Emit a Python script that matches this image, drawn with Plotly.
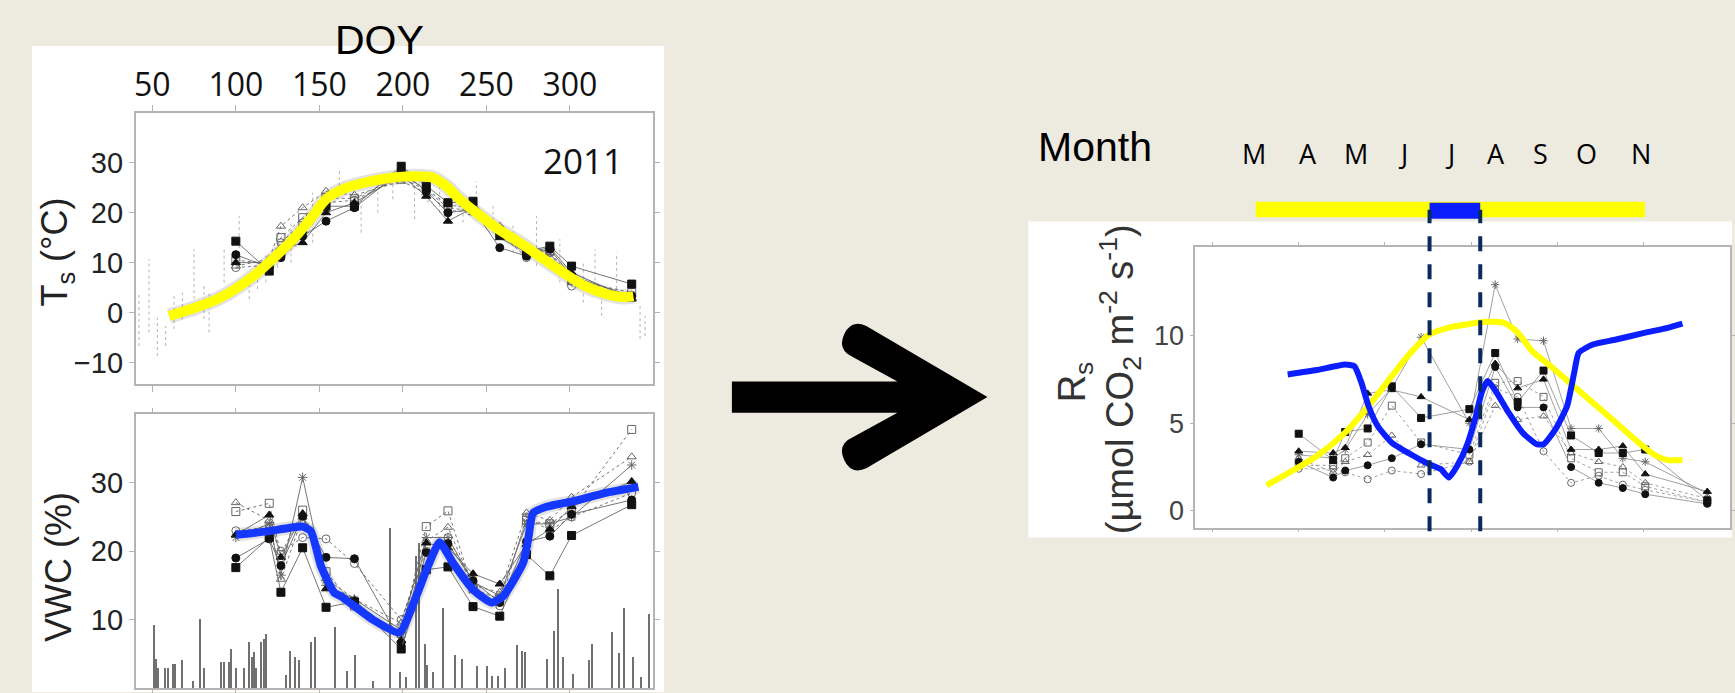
import plotly.graph_objects as go

W, H = 1735, 693
BG = "#EDEAE0"

# ---------------- data ----------------
sample_doy = [100, 120, 127, 140, 154, 171, 199, 214, 227, 242, 258, 274, 288, 301, 337]

# Soil temperature (Ts, degC) per plot
ts_sq_filled   = [14.3, 8.3, 12.0, 16.7, 21.3, 21.3, 29.3, 25.3, 22.0, 22.3, 15.7, 12.3, 13.3, 9.3, 5.7]
ts_circ_filled = [11.6, 9.0, 11.0, 15.3, 18.3, 21.0, 28.3, 24.3, 20.0, 20.7, 13.0, 11.3, 12.7, 7.3, 3.3]
ts_tri_filled  = [10.0, 10.0, 12.5, 14.0, 20.0, 22.0, 27.5, 23.3, 18.3, 21.0, 15.0, 12.0, 13.0, 8.0, 2.7]
ts_sq_open     = [10.5, 9.8, 15.0, 19.0, 23.0, 22.8, 27.5, 24.8, 21.5, 21.0, 16.5, 12.5, 12.3, 6.5, 4.0]
ts_tri_open    = [9.3, 10.7, 17.3, 21.0, 24.3, 23.5, 26.3, 24.0, 20.5, 20.0, 17.3, 13.3, 12.0, 6.0, 3.0]
ts_circ_open   = [9.0, 9.5, 14.0, 18.0, 22.0, 22.5, 27.0, 24.5, 21.0, 20.3, 16.0, 11.0, 12.0, 5.3, 3.5]

# daily Ts ranges (dotted gray)
ts_daily_doy  = [42, 48, 53, 58, 63, 68, 75, 81, 84, 93, 102, 108, 113, 118, 125, 133, 146, 162,
                 175, 185, 194, 207, 215, 222, 236, 244, 254, 266, 280, 294, 308, 315, 319, 328, 342, 345]
ts_daily_low  = [-6.7, -4.0, -8.7, -6.7, -3.3, -1.3, 2.7, -1.3, -4.0, 6.0, 9.3, 2.7, 4.7, 6.0, 9.0, 10.0, 14.0, 25.3,
                 16.0, 20.0, 22.7, 18.7, 22.0, 20.0, 18.0, 21.3, 16.0, 12.0, 9.3, 6.0, 2.0, 4.0, -0.7, 4.7, -5.3, -4.7]
ts_daily_high = [4.0, 10.7, -1.0, -2.7, 3.7, 4.0, 12.7, 5.3, 4.0, 12.7, 19.3, 6.0, 9.3, 12.0, 16.0, 18.0, 24.0, 29.0,
                 22.7, 26.0, 28.7, 25.3, 28.0, 26.0, 24.0, 26.3, 21.3, 18.0, 19.3, 14.7, 10.0, 12.7, 4.7, 12.0, 1.3, -0.7]

# Ts fitted curve
ts_fit_doy = [60, 76, 89, 101, 113, 123, 136, 146, 154, 164, 177, 193, 208, 218, 226, 234, 244, 257, 270,
              283, 296, 309, 322, 332, 338]
ts_fit_val = [-0.7, 1.0, 2.7, 5.0, 8.0, 11.0, 15.3, 19.3, 22.7, 24.7, 26.0, 27.0, 27.3, 27.0, 25.3, 22.7,
              20.0, 16.7, 14.0, 11.0, 8.0, 5.3, 3.7, 3.1, 3.3]

# Volumetric water content (VWC, %) per plot
vwc_sq_filled   = [17.6, 22.0, 14.0, 20.5, 11.8, 12.6, 5.7, 17.3, 17.7, 11.9, 10.5, 19.5, 16.4, 22.3, 26.8]
vwc_circ_filled = [19.0, 21.8, 17.9, 25.1, 19.1, 18.9, 6.6, 19.8, 21.1, 15.7, 12.5, 21.4, 22.2, 25.4, 27.5]
vwc_tri_filled  = [22.4, 25.3, 19.1, 25.5, 14.5, 12.8, 7.0, 21.2, 20.5, 16.7, 15.2, 21.0, 23.2, 26.5, 30.2]
vwc_sq_open     = [25.8, 27.0, 19.5, 26.0, 17.0, 12.0, 8.0, 23.6, 25.9, 14.5, 13.0, 24.5, 24.0, 26.0, 37.8]
vwc_tri_open    = [27.1, 24.5, 15.9, 25.0, 16.0, 13.0, 9.5, 21.5, 23.5, 15.0, 14.0, 25.6, 24.5, 27.9, 33.8]
vwc_circ_open   = [23.0, 23.5, 20.0, 22.0, 21.8, 18.2, 10.0, 20.0, 22.0, 15.0, 12.0, 25.0, 23.0, 25.0, 28.5]
vwc_star        = [22.0, 24.0, 16.5, 30.8, 15.0, 13.0, 8.5, 22.0, 22.0, 15.5, 13.5, 24.0, 24.0, 25.0, 32.6]

vwc_fit_doy = [100, 119, 140, 145, 151, 159, 163, 182, 198, 208, 215, 222, 230, 242, 253, 260, 272, 275,
               278, 286, 302, 321, 341]
vwc_fit_val = [22.4, 22.9, 23.6, 22.9, 17.8, 13.9, 13.4, 10.0, 8.1, 13.4, 17.8, 21.3, 18.3, 14.4, 12.5,
               13.4, 18.3, 21.7, 25.6, 26.5, 27.3, 28.5, 29.4]

# precipitation events (drawn on the VWC panel scale)
precip_doy = [51, 52, 53.5, 57.5, 59, 62, 63.5, 67.5, 74, 78.5, 81, 91, 93, 96, 97, 100, 105, 108, 109.5, 111,
              112, 115, 116.5, 118, 130, 132.5, 135, 137.5, 145, 147.5, 159.5, 166.5, 171.5, 182, 192, 198,
              202, 208, 209.5, 213, 214.5, 218, 224, 231, 235, 244, 250, 253, 257, 261, 268, 271, 273, 286,
              290.5, 292.5, 296, 301.5, 311.5, 313, 325, 329.5, 332, 337.5, 342.5, 347]
precip_val = [9.1, 4.2, 2.8, 2.8, 2.8, 3.5, 3.5, 4.0, 0.9, 10.0, 2.8, 3.8, 3.8, 3.8, 5.7, 2.8, 2.8, 6.6, 4.5, 5.2,
              2.8, 6.6, 7.1, 7.9, 1.8, 5.4, 4.5, 4.0, 6.6, 7.4, 8.8, 2.5, 4.7, 0.9, 23.4, 2.3,
              1.5, 19.3, 21.2, 6.4, 3.3, 2.3, 11.7, 4.7, 4.2, 3.1, 3.1, 1.7, 1.7, 2.8, 6.3, 5.4, 5.2, 4.2,
              8.3, 14.4, 4.5, 2.0, 4.0, 6.4, 8.1, 5.0, 11.7, 4.5, 1.5, 10.8]

# Soil respiration (Rs, umol CO2 m-2 s-1) per plot
rs_sq_filled   = [4.4, 2.9, 4.5, 4.7, 7.1, 5.3, 5.8, 9.0, 6.2, 8.0, 4.3, 3.3, 3.3, 3.5, 0.6]
rs_circ_filled = [2.8, 1.9, 2.3, 2.6, 3.0, 3.8, 3.5, 8.2, 5.9, 5.9, 2.5, 1.6, 1.3, 0.95, 0.4]
rs_tri_filled  = [3.4, 3.3, 3.6, 6.7, 6.9, 6.5, 5.2, 8.4, 7.0, 7.5, 3.5, 3.5, 3.7, 2.1, 1.1]
rs_sq_open     = [2.6, 2.6, 3.0, 3.9, 6.0, 3.9, 3.2, 7.3, 7.4, 6.5, 3.0, 2.2, 2.2, 1.4, 0.5]
rs_tri_open    = [3.0, 2.2, 2.8, 3.2, 4.3, 2.6, 2.8, 6.0, 5.2, 5.4, 3.3, 2.8, 2.5, 1.6, 0.7]
rs_circ_open   = [2.4, 2.4, 2.2, 1.8, 2.3, 2.1, 2.8, 7.0, 6.5, 3.4, 1.6, 2.0, 1.5, 1.2, 0.5]
rs_star        = [3.2, 3.0, 3.5, 5.5, 7.0, 9.9, 5.0, 12.9, 9.8, 9.7, 4.7, 4.7, 3.0, 2.8, 1.0]

# Ts and VWC trends rescaled onto the Rs panel
rs_ts_doy = [81.4, 94.4, 110.6, 126.9, 140.5, 154.0, 164.9, 175.7, 186.6, 197.4, 208.2, 219.1, 227.2, 235.4,
             246.2, 257.1, 270.6, 284.1, 295.0, 305.9, 314.0, 322.6]
rs_ts_val = [1.46, 2.18, 3.13, 4.46, 5.98, 7.68, 9.01, 10.06, 10.44, 10.63, 10.78, 10.72, 10.15, 9.11, 8.25,
             7.31, 6.17, 5.03, 4.08, 3.23, 2.90, 2.90]
rs_vwc_doy = [93.6, 110.6, 126.9, 132.3, 136.4, 140.5, 145.8, 154.0, 164.9, 175.7, 182.5, 187.1, 191.9, 197.4,
              202.8, 206.1, 209.6, 213.6, 221.8, 229.9, 238.0, 242.1, 248.9, 255.7, 259.8, 262.4, 270.6,
              284.1, 300.4, 314.0, 322.6]
rs_vwc_val = [7.78, 8.03, 8.35, 8.25, 7.31, 5.98, 4.84, 3.89, 3.23, 2.66, 2.37, 1.90, 2.56, 3.70, 5.41, 6.74,
              7.40, 6.93, 5.60, 4.46, 3.80, 3.80, 4.65, 5.98, 7.88, 9.01, 9.49, 9.77, 10.15, 10.44, 10.68]

doy_ticks = [50, 100, 150, 200, 250, 300]
month_labels = ["M", "A", "M", "J", "J", "A", "S", "O", "N"]
month_pos = [74.1, 105.5, 133.3, 160.5, 187.5, 214.4, 240.5, 267.1, 298.7]

# season bar: warm (yellow) and dry (blue) periods on the DOY axis
warm_start, warm_end = 75.0, 300.8
dry_start, dry_end = 175.9, 205.3

# ---------------- helpers ----------------
def px(x, y):
    return x / W, 1 - y / H

FILLED = "#111111"
OPEN = "#666666"
style_sq_f = ("square", FILLED, "solid")
style_ci_f = ("circle", FILLED, "solid")
style_tr_f = ("triangle-up", FILLED, "solid")
style_sq_o = ("square-open", OPEN, "dot")
style_tr_o = ("triangle-up-open", OPEN, "dot")
style_ci_o = ("circle-open", OPEN, "dot")
style_st = ("asterisk-open", OPEN, "solid")

fig = go.Figure()


def add_series(xa, ya, vals, style, size, lcol="#666", lw=0.9):
    sym, col, dash = style
    fig.add_trace(go.Scatter(
        x=sample_doy, y=vals, xaxis=xa, yaxis=ya, mode="lines+markers",
        line=dict(color=lcol, width=lw, dash=dash),
        marker=dict(symbol=sym, size=size, color=col, line=dict(color=col, width=1)),
        hoverinfo="skip"))


# ---- top-left: Ts ----
dx, dy = [], []
for d, lo, hi in zip(ts_daily_doy, ts_daily_low, ts_daily_high):
    dx += [d, d, None]
    dy += [lo, hi, None]
fig.add_trace(go.Scatter(x=dx, y=dy, xaxis="x", yaxis="y", mode="lines",
                         line=dict(color="#b5b5b5", width=1, dash="dot"), hoverinfo="skip"))
for vals, st in [(ts_circ_open, style_ci_o), (ts_tri_open, style_tr_o), (ts_sq_open, style_sq_o),
                 (ts_tri_filled, style_tr_f), (ts_circ_filled, style_ci_f), (ts_sq_filled, style_sq_f)]:
    add_series("x", "y", vals, st, 8)
fig.add_trace(go.Scatter(x=ts_fit_doy, y=ts_fit_val, xaxis="x", yaxis="y", mode="lines",
                         line=dict(color="rgba(60,60,60,0.15)", width=15, shape="spline", smoothing=0.8),
                         hoverinfo="skip"))
fig.add_trace(go.Scatter(x=ts_fit_doy, y=ts_fit_val, xaxis="x", yaxis="y", mode="lines",
                         line=dict(color="#FFFF00", width=10, shape="spline", smoothing=0.8),
                         hoverinfo="skip"))

# ---- bottom-left: VWC ----
fig.add_trace(go.Bar(x=precip_doy, y=precip_val, xaxis="x2", yaxis="y2", width=0.8,
                     marker=dict(color="#707070", line=dict(width=0)), hoverinfo="skip"))
for vals, st in [(vwc_circ_open, style_ci_o), (vwc_tri_open, style_tr_o), (vwc_sq_open, style_sq_o),
                 (vwc_star, style_st), (vwc_tri_filled, style_tr_f), (vwc_circ_filled, style_ci_f),
                 (vwc_sq_filled, style_sq_f)]:
    add_series("x2", "y2", vals, st, 8)
fig.add_trace(go.Scatter(x=vwc_fit_doy, y=vwc_fit_val, xaxis="x2", yaxis="y2", mode="lines",
                         line=dict(color="rgba(60,60,60,0.15)", width=13, shape="spline", smoothing=0.5),
                         hoverinfo="skip"))
fig.add_trace(go.Scatter(x=vwc_fit_doy, y=vwc_fit_val, xaxis="x2", yaxis="y2", mode="lines",
                         line=dict(color="#1538FF", width=8, shape="spline", smoothing=0.5),
                         hoverinfo="skip"))

# ---- right: Rs ----
for vals, st in [(rs_circ_open, style_ci_o), (rs_tri_open, style_tr_o), (rs_sq_open, style_sq_o),
                 (rs_star, style_st), (rs_tri_filled, style_tr_f), (rs_circ_filled, style_ci_f),
                 (rs_sq_filled, style_sq_f)]:
    add_series("x3", "y3", vals, st, 7, lcol="#888", lw=0.8)
fig.add_trace(go.Scatter(x=rs_ts_doy, y=rs_ts_val, xaxis="x3", yaxis="y3", mode="lines",
                         line=dict(color="#FFFF00", width=6, shape="spline", smoothing=0.7),
                         hoverinfo="skip"))
fig.add_trace(go.Scatter(x=rs_vwc_doy, y=rs_vwc_val, xaxis="x3", yaxis="y3", mode="lines",
                         line=dict(color="#0A1EFF", width=6, shape="spline", smoothing=0.5),
                         hoverinfo="skip"))

# ---------------- layout ----------------
AX = dict(showgrid=False, zeroline=False, showline=True, mirror="ticks", linecolor="#b4b4b4",
          linewidth=1.5, ticks="outside", tickcolor="#b4b4b4", ticklen=5, tickwidth=1)

lab_font = dict(family="Liberation Sans, Arial, sans-serif", size=29, color="#222")

xl = [134 / W, 653.3 / W]
fig.update_layout(
    width=W, height=H, margin=dict(l=0, r=0, t=0, b=0),
    paper_bgcolor=BG, plot_bgcolor="white", showlegend=False,
    xaxis=dict(AX, domain=xl, range=[40, 350], anchor="y", side="top", tickvals=doy_ticks,
               ticklen=6, ticklabelstandoff=-4,
               tickfont=dict(family="Open Sans, sans-serif", size=32, color="#111")),
    yaxis=dict(AX, domain=[1 - 385 / H, 1 - 113 / H], range=[-14.4, 40], anchor="x",
               tickvals=[-10, 0, 10, 20, 30], tickfont=lab_font),
    xaxis2=dict(AX, domain=xl, range=[40, 350], anchor="y2", tickvals=doy_ticks, showticklabels=False),
    yaxis2=dict(AX, domain=[1 - 689 / H, 1 - 415 / H], range=[0, 40], anchor="x2",
                tickvals=[10, 20, 30], tickfont=lab_font),
    xaxis3=dict(AX, domain=[1196.7 / W, 1732.7 / W], range=[40, 350], anchor="y3", tickvals=doy_ticks,
                showticklabels=False, ticklen=3),
    yaxis3=dict(AX, domain=[1 - 528.3 / H, 1 - 247.3 / H], range=[-0.95, 15.05], anchor="x3",
                tickvals=[0, 5, 10], ticklen=4,
                tickfont=dict(family="Liberation Sans, Arial, sans-serif", size=27, color="#444")),
    bargap=0,
)

shapes = []
# white panels
x0, y0 = px(30, 46)
x1, y1 = px(664, 693)
shapes.append(dict(type="rect", xref="paper", yref="paper", x0=x0, y0=y1, x1=x1, y1=y0,
                   fillcolor="white", line=dict(width=0), layer="below"))
x0, y0 = px(1029.3, 221.7)
x1, y1 = px(1735, 538.3)
shapes.append(dict(type="rect", xref="paper", yref="paper", x0=x0, y0=y1, x1=x1, y1=y0,
                   fillcolor="white", line=dict(width=0), layer="below"))

# big arrow
arrow_pts = [("M", 732, 382), ("L", 898, 382), ("L", 853.2, 357.6),
             ("Q", 837.6, 350.8, 844.4, 335.2), ("Q", 851.2, 319.6, 866.8, 326.4),
             ("L", 988.3, 397.7), ("L", 866.8, 469.0),
             ("Q", 851.2, 475.8, 844.4, 460.2), ("Q", 837.6, 444.6, 853.2, 437.8),
             ("L", 898, 413.4), ("L", 732, 413.4)]
path = ""
for seg in arrow_pts:
    cmd, vals = seg[0], seg[1:]
    coords = []
    for i in range(0, len(vals), 2):
        a, b = px(vals[i], vals[i + 1])
        coords.append(f"{a:.5f},{b:.5f}")
    path += cmd + " ".join(coords) + " "
path += "Z"
shapes.append(dict(type="path", xref="paper", yref="paper", path=path, fillcolor="black",
                   line=dict(width=0)))

# season bar
_, yb0 = px(0, 217.5)
_, yb1 = px(0, 202)
shapes.append(dict(type="rect", xref="x3", yref="paper", x0=warm_start, x1=warm_end, y0=yb0, y1=yb1,
                   fillcolor="#FFFF00", line=dict(width=0)))
_, yc0 = px(0, 219)
_, yc1 = px(0, 203)
shapes.append(dict(type="rect", xref="x3", yref="paper", x0=dry_start, x1=dry_end, y0=yc0, y1=yc1,
                   fillcolor="#0A1EFF", line=dict(width=0)))
# dashed boundaries of the dry period
_, yd0 = px(0, 532)
_, yd1 = px(0, 210)
for xv in (dry_start, dry_end):
    shapes.append(dict(type="line", xref="x3", yref="paper", x0=xv, x1=xv, y0=yd0, y1=yd1,
                       line=dict(color="#0B2A5C", width=4, dash="15px,13px")))
fig.update_layout(shapes=shapes)

ann = []
def add_text(text, xp, yp, size, family="Liberation Sans, Arial, sans-serif", color="black",
             angle=0, xref="paper", xval=None):
    ax_, ay_ = px(xp if xp is not None else 0, yp)
    ann.append(dict(text=text, x=xval if xval is not None else ax_, y=ay_, xref=xref, yref="paper",
                    showarrow=False, textangle=angle, xanchor="center", yanchor="middle",
                    font=dict(family=family, size=size, color=color)))

add_text("DOY", 379, 40, 41)
add_text("2011", 583, 161, 35, family="Open Sans, sans-serif", color="#111")
add_text("T<sub>s</sub> (°C)", 55, 252, 36, color="#222", angle=-90)
add_text("VWC (%)", 56, 568, 36, color="#222", angle=-90)
add_text("Month", 1096, 147, 41)
for lab, pos in zip(month_labels, month_pos):
    add_text(lab, None, 153.3, 27, family="Open Sans, sans-serif", xref="x3", xval=pos)
add_text("R<sub>s</sub>", 1077, 382, 38, color="#333", angle=-90)
add_text("(µmol CO<sub>2</sub> m<sup>-2</sup> s<sup>-1</sup>)", 1122, 380, 38, color="#333", angle=-90)
fig.update_layout(annotations=ann)

fig.write_html("out.html", config={"displayModeBar": False},
               post_script="document.body.style.margin='0';document.body.style.background='%s';" % BG)
